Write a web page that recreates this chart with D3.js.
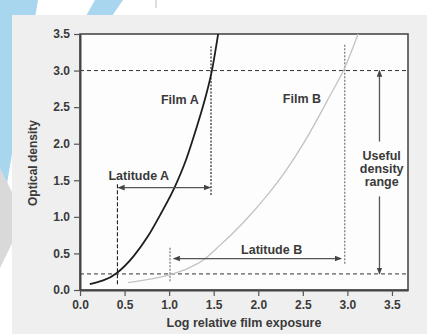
<!DOCTYPE html>
<html>
<head>
<meta charset="utf-8">
<script src="https://cdn.jsdelivr.net/npm/d3@7"></script>
<style>
  body { margin: 0; background: #fff; }
  text { font-family: "Liberation Sans", Arial, sans-serif; fill: #3a3a3a; font-weight: bold; }
</style>
</head>
<body>
<div id="vis"></div>
<script>
// characteristic curves (log exposure, optical density)
var filmAx = [0.11, 0.41, 0.60, 0.76, 0.91, 1.06, 1.19, 1.30, 1.40, 1.48, 1.55]
var filmAy = [0.08, 0.23, 0.46, 0.73, 1.05, 1.40, 1.78, 2.19, 2.60, 3.00, 3.50]

var filmBx = [0.54, 1.01, 1.20, 1.37, 1.57, 1.83, 2.09, 2.32, 2.50, 2.66, 2.81, 2.96, 3.12]
var filmBy = [0.10, 0.21, 0.29, 0.40, 0.61, 0.92, 1.28, 1.65, 1.99, 2.33, 2.67, 3.01, 3.50]

var xTicks = [0, 0.5, 1.0, 1.5, 2.0, 2.5, 3.0, 3.5]
var yTicks = [0, 0.5, 1.0, 1.5, 2.0, 2.5, 3.0, 3.5]

// density limits (horizontal dashed)
var densityLimits = [3.0, 0.22]

// vertical guides: exposure, from density, to density
var guideX    = [0.42, 1.47, 1.01, 2.97]
var guideFrom = [0.08, 1.30, 0.12, 0.36]
var guideTo   = [1.46, 3.33, 0.59, 3.37]

// latitude arrows
var latA = { y: 1.40, from: 0.43, to: 1.46 }
var latB = { y: 0.43, from: 1.05, to: 2.93 }
// useful density range arrow (exposure position, gap for text)
var useful = { x: 3.36, top: 3.0, bottom: 0.22, gapTop: 2.03, gapBottom: 1.28 }

var width = 427,
    height = 334

var svg = d3.select("#vis")
    .append("svg")
    .attr("width", width)
    .attr("height", height)

// background decoration
svg.append("polygon").attr("points", "0,0 38,0 0,225").attr("fill", "#a9d6ef")
svg.append("polygon").attr("points", "0,168 16,200 16,235 0,268").attr("fill", "#d9d9d9")
svg.append("polygon").attr("points", "95,0 123,0 112,16 86,16").attr("fill", "#a9d6ef")
svg.append("line").attr("x1", 156).attr("x2", 156).attr("y1", 0).attr("y2", 8)
    .attr("stroke", "#bbb").attr("stroke-width", 1)

svg.append("rect")
    .attr("x", 12).attr("y", 15)
    .attr("width", width - 12).attr("height", height - 15)
    .attr("fill", "#efefef")

var x = d3.scaleLinear().domain([0, 3.68]).range([80, 408])
var y = d3.scaleLinear().domain([0, 3.5]).range([290, 34])

svg.append("rect")
    .attr("x", x(0)).attr("y", y(3.5))
    .attr("width", x(3.68) - x(0)).attr("height", y(0) - y(3.5))
    .attr("fill", "#fdfdfd")
    .attr("stroke", "#4a4a4a")
    .attr("stroke-width", 1.6)

var defs = svg.append("defs")
defs.append("marker")
    .attr("id", "head")
    .attr("viewBox", "0 0 10 10")
    .attr("refX", 9).attr("refY", 5)
    .attr("markerWidth", 7).attr("markerHeight", 7)
    .attr("markerUnits", "userSpaceOnUse")
    .attr("orient", "auto-start-reverse")
    .append("path")
    .attr("d", "M0,1 L10,5 L0,9 Z")
    .attr("fill", "#444")

// horizontal density limits
svg.selectAll(".limit")
    .data(densityLimits)
    .enter().append("line")
    .attr("class", "limit")
    .attr("x1", x(0)).attr("x2", x(3.68))
    .attr("y1", function (d) { return y(d) })
    .attr("y2", function (d) { return y(d) })
    .attr("stroke", "#333")
    .attr("stroke-width", 1)
    .attr("stroke-dasharray", "4,3")

// vertical guides
svg.selectAll(".guide")
    .data(guideX)
    .enter().append("line")
    .attr("class", "guide")
    .attr("x1", function (d) { return x(d) })
    .attr("x2", function (d) { return x(d) })
    .attr("y1", function (d, i) { return y(guideFrom[i]) })
    .attr("y2", function (d, i) { return y(guideTo[i]) })
    .attr("stroke", function (d, i) { return i == 0 ? "#222" : (i == 1 ? "#444" : "#888") })
    .attr("stroke-width", function (d, i) { return i == 0 ? 1.1 : 1.4 })
    .attr("stroke-dasharray", function (d, i) { return i == 0 ? "4,2" : "2,1.5" })

// curves
var line = d3.line()
    .x(function (d) { return x(d[0]) })
    .y(function (d) { return y(d[1]) })
    .curve(d3.curveMonotoneX)

svg.append("path")
    .datum(d3.zip(filmBx, filmBy))
    .attr("d", line)
    .attr("fill", "none")
    .attr("stroke", "#c2c2c2")
    .attr("stroke-width", 1.3)

svg.append("path")
    .datum(d3.zip(filmAx, filmAy))
    .attr("d", line)
    .attr("fill", "none")
    .attr("stroke", "#1e1e1e")
    .attr("stroke-width", 1.8)

// arrows
function arrow(x1, y1, x2, y2, both) {
    var l = svg.append("line")
        .attr("x1", x1).attr("y1", y1)
        .attr("x2", x2).attr("y2", y2)
        .attr("stroke", "#555")
        .attr("stroke-width", 1.3)
        .attr("marker-end", "url(#head)")
    if (both) l.attr("marker-start", "url(#head)")
}
arrow(x(latA.from), y(latA.y), x(latA.to), y(latA.y), true)
arrow(x(latB.from), y(latB.y), x(latB.to), y(latB.y), true)
arrow(x(useful.x), y(useful.gapTop), x(useful.x), y(useful.top), false)
arrow(x(useful.x), y(useful.gapBottom), x(useful.x), y(useful.bottom), false)

// axes
svg.append("g")
    .attr("transform", "translate(0," + y(0) + ")")
    .call(d3.axisBottom(x).tickValues(xTicks).tickFormat(d3.format(".1f"))
        .tickSize(6).tickSizeOuter(0).tickPadding(4))
svg.append("g")
    .attr("transform", "translate(" + x(0) + ",0)")
    .call(d3.axisLeft(y).tickValues(yTicks).tickFormat(d3.format(".1f"))
        .tickSize(6).tickSizeOuter(0).tickPadding(4))

svg.selectAll(".domain").attr("stroke", "#444").attr("stroke-width", 2)
svg.selectAll(".tick line").attr("stroke", "#555").attr("stroke-width", 1.2)
svg.selectAll(".tick text")
    .style("font-family", "Liberation Sans, Arial, sans-serif")
    .style("font-size", "12px")
    .attr("fill", "#3a3a3a")

// labels
function label(txt, px, py, size) {
    svg.append("text")
        .attr("x", px).attr("y", py)
        .attr("text-anchor", "middle")
        .style("font-size", (size || 12.5) + "px")
        .text(txt)
}
label("Film A", x(1.12), y(2.54))
label("Film B", x(2.49), y(2.55))
label("Latitude A", x(0.66), y(1.50))
label("Latitude B", x(2.15), y(0.49))
label("Useful", x(3.385), y(1.78))
label("density", x(3.385), y(1.78) + 13.3)
label("range", x(3.385), y(1.78) + 26.6)

label("Log relative film exposure", (x(0) + x(3.68)) / 2, 327)

svg.append("text")
    .attr("transform", "translate(37,163) rotate(-90)")
    .attr("text-anchor", "middle")
    .style("font-size", "12px")
    .text("Optical density")
</script>
</body>
</html>
